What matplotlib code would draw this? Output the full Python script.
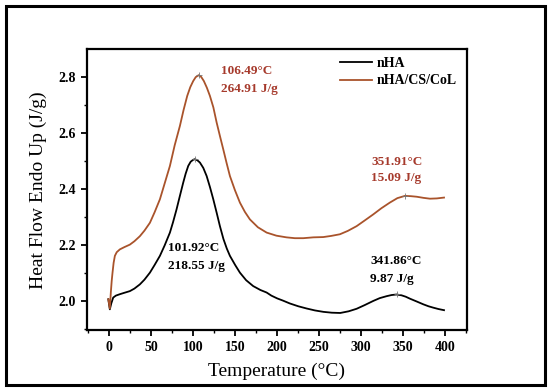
import matplotlib
matplotlib.use("Agg")
import matplotlib.pyplot as plt
from matplotlib.ticker import MultipleLocator
from matplotlib.patches import Rectangle

# ---- data ----
nha_T = [-1, 0.8, 2.5, 4.8, 8, 12.7, 18, 24.6, 30, 36.5, 42, 48.5, 54, 60.4, 66,
         72.3, 76, 80.2, 84, 88.1, 91, 94.1, 97, 100, 102, 105, 108, 112, 116, 120,
         123.9, 128, 131.8, 136, 140, 143.7, 150, 155.6, 163, 171.4, 180, 187.4,
         193, 200, 207, 215, 225, 235, 245, 255, 265, 275, 285, 294.5, 304, 314.3,
         322, 330.2, 336, 342, 348, 353, 358, 366, 373.8, 380, 385.7, 392, 398.5]
nha_H = [2.005, 1.969, 1.990, 2.011, 2.018, 2.023, 2.028, 2.034, 2.043, 2.058,
         2.075, 2.100, 2.127, 2.160, 2.197, 2.243, 2.280, 2.326, 2.372, 2.421,
         2.453, 2.481, 2.496, 2.503, 2.505, 2.501, 2.493, 2.474, 2.445, 2.405,
         2.362, 2.313, 2.266, 2.220, 2.186, 2.160, 2.127, 2.100, 2.073, 2.052,
         2.038, 2.029, 2.018, 2.008, 2.000, 1.990, 1.980, 1.972, 1.965, 1.960,
         1.957, 1.956, 1.962, 1.971, 1.984, 1.999, 2.009, 2.016, 2.020, 2.022,
         2.019, 2.014, 2.007, 1.997, 1.987, 1.980, 1.975, 1.970, 1.966]

comp_T = [-1, 0.8, 2, 3, 4, 5.3, 6.8, 9, 12.7, 18, 24.6, 30, 36.5, 42, 48.5, 54,
          60.4, 66, 72.3, 78, 84.2, 88.5, 92.9, 96.5, 100, 103, 106.5, 109.5,
          112.7, 116.3, 119.9, 124, 127.9, 131.8, 135.8, 139.7, 143.7, 149.6,
          155.6, 161.5, 167.5, 177, 187.4, 199, 211, 221, 231, 243, 254.8, 264,
          274.6, 284, 294.5, 304, 314.3, 324, 334, 343, 352, 359, 366, 374, 381.8,
          390, 398.5]
comp_H = [2.005, 1.972, 2.030, 2.070, 2.100, 2.135, 2.160, 2.173, 2.183, 2.191,
          2.200, 2.212, 2.230, 2.250, 2.278, 2.315, 2.362, 2.418, 2.481, 2.555,
          2.624, 2.680, 2.731, 2.762, 2.784, 2.798, 2.805, 2.799, 2.784, 2.760,
          2.731, 2.690, 2.636, 2.588, 2.540, 2.492, 2.445, 2.395, 2.350, 2.317,
          2.290, 2.262, 2.243, 2.232, 2.226, 2.223, 2.223, 2.226, 2.227, 2.231,
          2.237, 2.249, 2.266, 2.286, 2.308, 2.330, 2.350, 2.366, 2.374, 2.373,
          2.371, 2.367, 2.364, 2.365, 2.368]

peak_T = [102, 342, 106.5, 352]
peak_H = [2.505, 2.022, 2.805, 2.374]

labels = ["nHA", "nHA/CS/CoL"]
nha_notes = [("101.92°C", "218.55 J/g", 70.3, 2.189, 2.124),
             ("341.86°C", "9.87 J/g", 310.4, 2.141, 2.076)]
comp_notes = [("106.49°C", "264.91 J/g", 132.6, 2.820, 2.755),
              ("351.91°C", "15.09 J/g", 312.0, 2.496, 2.437)]

x_ticks = [0, 50, 100, 150, 200, 250, 300, 350, 400]
y_ticks = [2.0, 2.2, 2.4, 2.6, 2.8]

# ---- style ----
BROWN = "#a9532b"
BROWN_TXT = "#a63a2c"
SERIF = ["Liberation Serif", "DejaVu Serif"]
plt.rcParams["font.family"] = SERIF

fig = plt.figure(figsize=(5.5, 3.92), dpi=100)
ax = fig.add_axes([0.158, 0.158, 0.691, 0.716])

ax.plot(nha_T, nha_H, color="black", lw=1.3, label=labels[0])
ax.plot(comp_T, comp_H, color=BROWN, lw=1.3, label=labels[1])
ax.plot(peak_T, peak_H, ls="none", marker="+", ms=5, mew=0.6, color="#777777")

for a, b, x, y1, y2 in nha_notes:
    ax.text(x, y1, a, fontsize=9.5, fontweight="bold", color="black", va="center")
    ax.text(x, y2, b, fontsize=9.5, fontweight="bold", color="black", va="center")
for a, b, x, y1, y2 in comp_notes:
    ax.text(x, y1, a, fontsize=9.5, fontweight="bold", color=BROWN_TXT, va="center")
    ax.text(x, y2, b, fontsize=9.5, fontweight="bold", color=BROWN_TXT, va="center")

ax.set_xlim(-26.5, 425.8)
ax.set_ylim(1.895, 2.897)
ax.set_xticks(x_ticks)
ax.set_yticks(y_ticks)
ax.set_xticklabels([str(t) for t in x_ticks])
ax.set_yticklabels([f"{t:.1f}" for t in y_ticks])
ax.xaxis.set_minor_locator(MultipleLocator(25))
ax.yaxis.set_minor_locator(MultipleLocator(0.1))
ax.tick_params(which="major", direction="out", length=4, width=1.3,
               labelsize=10, pad=4, top=False, right=False)
ax.tick_params(which="minor", direction="out", length=2.5, width=1.0,
               top=False, right=False)
for lab in ax.get_xticklabels() + ax.get_yticklabels():
    lab.set_fontweight("bold")
for s in ax.spines.values():
    s.set_linewidth(1.6)

ax.set_xlabel("Temperature (°C)", fontsize=14, labelpad=6)
ax.set_ylabel("Heat Flow Endo Up (J/g)", fontsize=14, labelpad=8)

leg = ax.legend(loc="upper left", bbox_to_anchor=(0.666, 0.972), frameon=False,
                borderaxespad=0, borderpad=0, handlelength=2.3, handletextpad=0.35,
                labelspacing=0.3, prop={"family": SERIF, "weight": "bold", "size": 10})

fig.patches.append(Rectangle((0.011, 0.018), 0.979, 0.966, transform=fig.transFigure,
                             fill=False, edgecolor="black", lw=2.2))

fig.savefig("out.png", dpi=100)
